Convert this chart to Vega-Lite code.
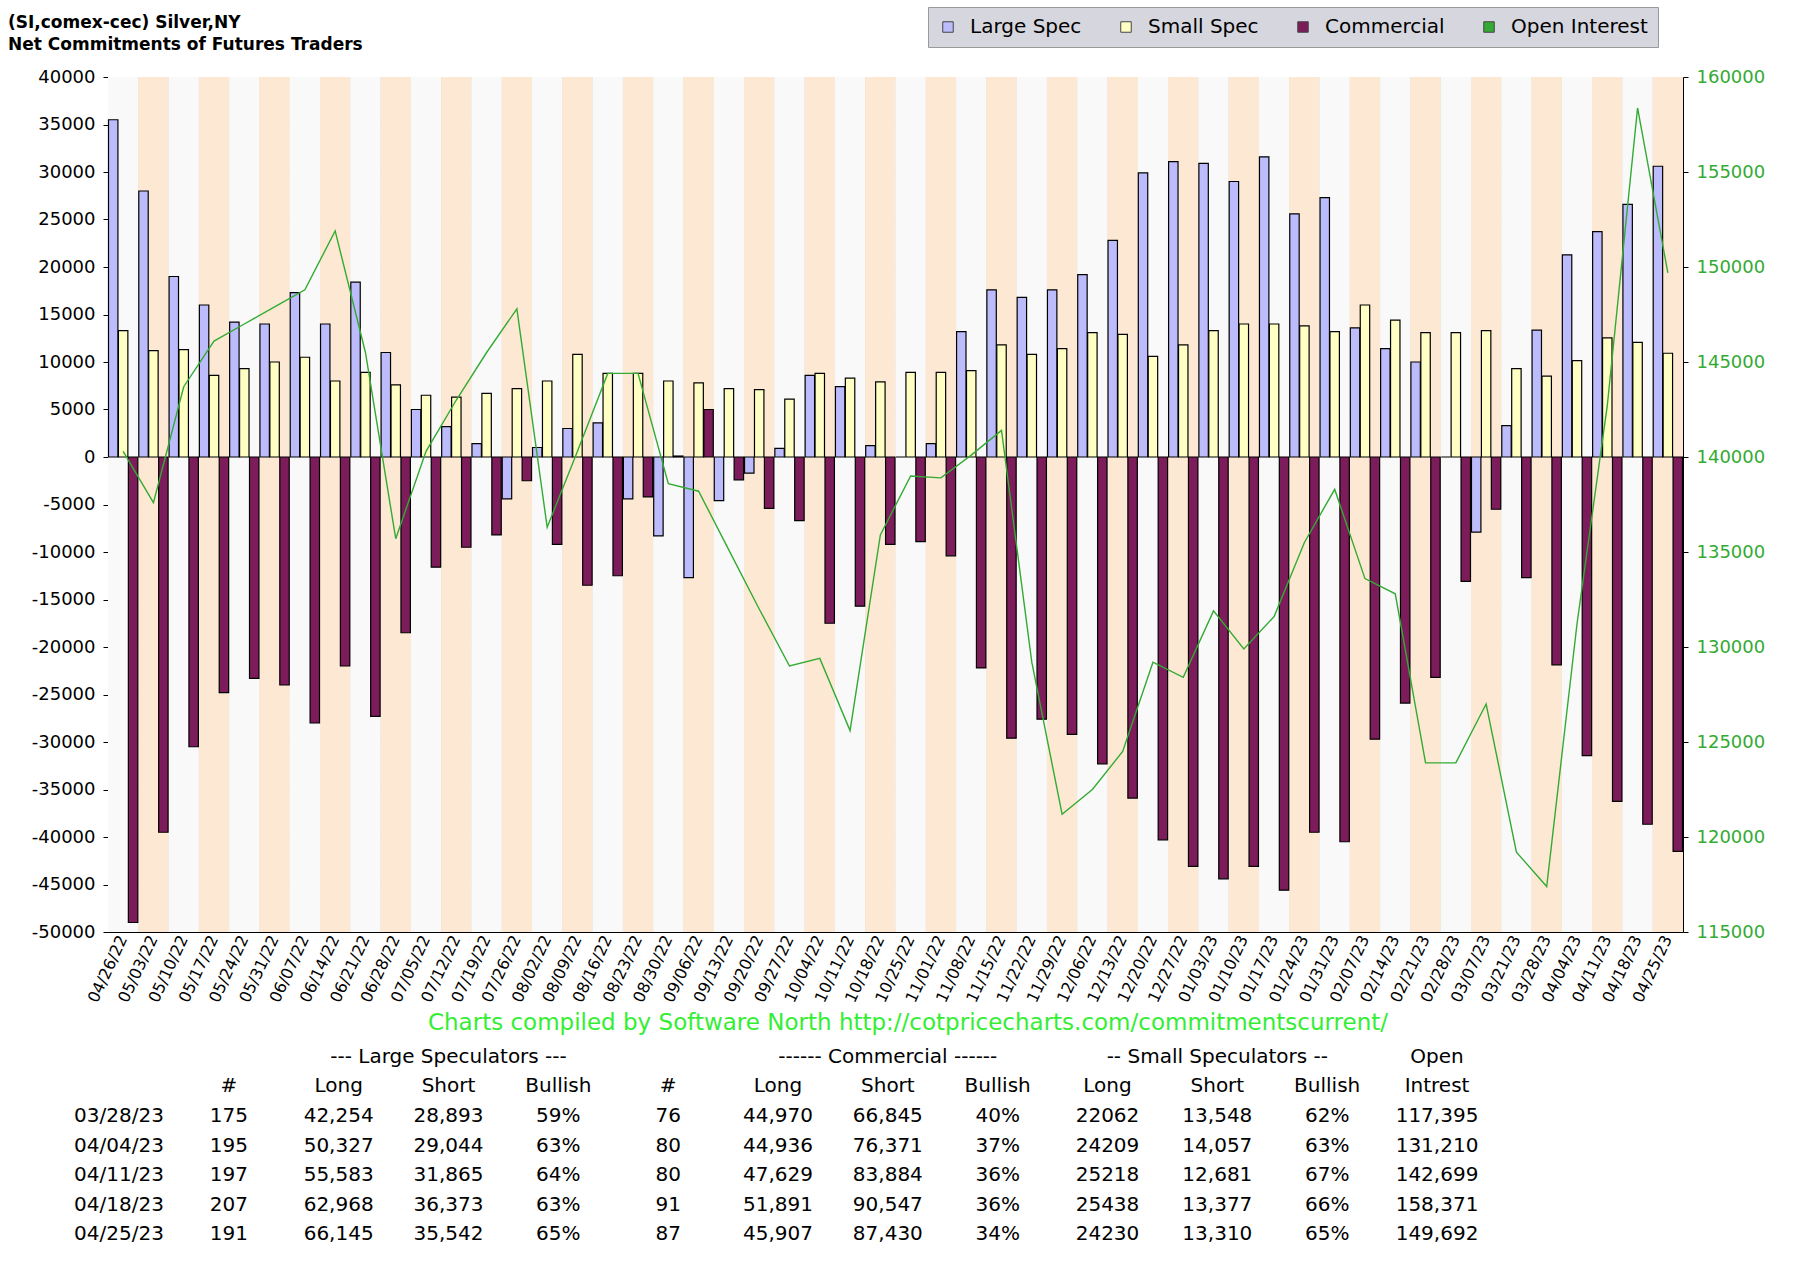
{
  "$schema": "https://vega.github.io/schema/vega-lite/v6.json",
  "background": "white",
  "padding": {"left": 8, "top": 6, "right": 6, "bottom": 4},
  "config": {
    "font": "DejaVu Sans",
    "view": {"stroke": null},
    "axis": {"labelFont": "DejaVu Sans", "labelFontSize": 18, "labelColor": "black", "domainColor": "black", "tickColor": "black"}
  },
  "datasets": {
    "cot": [
      {"d": "04/26/22", "L": 35500, "S": 13300, "C": -49000, "OI": 140300},
      {"d": "05/03/22", "L": 28000, "S": 11200, "C": -39500, "OI": 137600},
      {"d": "05/10/22", "L": 19000, "S": 11300, "C": -30500, "OI": 143700},
      {"d": "05/17/22", "L": 16000, "S": 8600, "C": -24800, "OI": 146100},
      {"d": "05/24/22", "L": 14200, "S": 9300, "C": -23300, "OI": 147000},
      {"d": "05/31/22", "L": 14000, "S": 10000, "C": -24000, "OI": 147900},
      {"d": "06/07/22", "L": 17300, "S": 10500, "C": -28000, "OI": 148800},
      {"d": "06/14/22", "L": 14000, "S": 8000, "C": -22000, "OI": 151900},
      {"d": "06/21/22", "L": 18400, "S": 8900, "C": -27300, "OI": 145500},
      {"d": "06/28/22", "L": 11000, "S": 7600, "C": -18500, "OI": 135700},
      {"d": "07/05/22", "L": 5000, "S": 6500, "C": -11600, "OI": 140300},
      {"d": "07/12/22", "L": 3200, "S": 6300, "C": -9500, "OI": 143000},
      {"d": "07/19/22", "L": 1400, "S": 6700, "C": -8200, "OI": 145500},
      {"d": "07/26/22", "L": -4400, "S": 7200, "C": -2500, "OI": 147800},
      {"d": "08/02/22", "L": 1000, "S": 8000, "C": -9200, "OI": 136300},
      {"d": "08/09/22", "L": 3000, "S": 10800, "C": -13500, "OI": 140300},
      {"d": "08/16/22", "L": 3600, "S": 8800, "C": -12500, "OI": 144400},
      {"d": "08/23/22", "L": -4400, "S": 8800, "C": -4200, "OI": 144400},
      {"d": "08/30/22", "L": -8300, "S": 8000, "C": 100, "OI": 138600},
      {"d": "09/06/22", "L": -12700, "S": 7800, "C": 5000, "OI": 138200},
      {"d": "09/13/22", "L": -4600, "S": 7200, "C": -2400, "OI": 135100},
      {"d": "09/20/22", "L": -1700, "S": 7100, "C": -5400, "OI": 132000},
      {"d": "09/27/22", "L": 900, "S": 6100, "C": -6700, "OI": 129000},
      {"d": "10/04/22", "L": 8600, "S": 8800, "C": -17500, "OI": 129400},
      {"d": "10/11/22", "L": 7400, "S": 8300, "C": -15700, "OI": 125600},
      {"d": "10/18/22", "L": 1200, "S": 7900, "C": -9200, "OI": 135900},
      {"d": "10/25/22", "L": 0, "S": 8900, "C": -8900, "OI": 139000},
      {"d": "11/01/22", "L": 1400, "S": 8900, "C": -10400, "OI": 138900},
      {"d": "11/08/22", "L": 13200, "S": 9100, "C": -22200, "OI": 140100},
      {"d": "11/15/22", "L": 17600, "S": 11800, "C": -29600, "OI": 141400},
      {"d": "11/22/22", "L": 16800, "S": 10800, "C": -27600, "OI": 129200},
      {"d": "11/29/22", "L": 17600, "S": 11400, "C": -29200, "OI": 121200},
      {"d": "12/06/22", "L": 19200, "S": 13100, "C": -32300, "OI": 122500},
      {"d": "12/13/22", "L": 22800, "S": 12900, "C": -35900, "OI": 124500},
      {"d": "12/20/22", "L": 29900, "S": 10600, "C": -40300, "OI": 129200},
      {"d": "12/27/22", "L": 31100, "S": 11800, "C": -43100, "OI": 128400},
      {"d": "01/03/23", "L": 30900, "S": 13300, "C": -44400, "OI": 131900},
      {"d": "01/10/23", "L": 29000, "S": 14000, "C": -43100, "OI": 129900},
      {"d": "01/17/23", "L": 31600, "S": 14000, "C": -45600, "OI": 131600},
      {"d": "01/24/23", "L": 25600, "S": 13800, "C": -39500, "OI": 135500},
      {"d": "01/31/23", "L": 27300, "S": 13200, "C": -40500, "OI": 138300},
      {"d": "02/07/23", "L": 13600, "S": 16000, "C": -29700, "OI": 133600},
      {"d": "02/14/23", "L": 11400, "S": 14400, "C": -25900, "OI": 132800},
      {"d": "02/21/23", "L": 10000, "S": 13100, "C": -23200, "OI": 123900},
      {"d": "02/28/23", "L": 0, "S": 13100, "C": -13100, "OI": 123900},
      {"d": "03/07/23", "L": -7900, "S": 13300, "C": -5500, "OI": 127000},
      {"d": "03/21/23", "L": 3300, "S": 9300, "C": -12700, "OI": 119200},
      {"d": "03/28/23", "L": 13361, "S": 8514, "C": -21875, "OI": 117395},
      {"d": "04/04/23", "L": 21283, "S": 10152, "C": -31435, "OI": 131210},
      {"d": "04/11/23", "L": 23718, "S": 12537, "C": -36255, "OI": 142699},
      {"d": "04/18/23", "L": 26595, "S": 12061, "C": -38656, "OI": 158371},
      {"d": "04/25/23", "L": 30603, "S": 10920, "C": -41523, "OI": 149692}
    ],
    "table": [
      {"r": 0, "dt": "", "ln": "", "ll": "", "ls": "--- Large Speculators ---", "lb": "", "cn": "", "cl": "", "cs": "------ Commercial ------", "cb": "", "sl": "", "ss": "-- Small Speculators --", "sb": "", "oi": "Open"},
      {"r": 1, "dt": "", "ln": "#", "ll": "Long", "ls": "Short", "lb": "Bullish", "cn": "#", "cl": "Long", "cs": "Short", "cb": "Bullish", "sl": "Long", "ss": "Short", "sb": "Bullish", "oi": "Intrest"},
      {"r": 2, "dt": "03/28/23", "ln": "175", "ll": "42,254", "ls": "28,893", "lb": "59%", "cn": "76", "cl": "44,970", "cs": "66,845", "cb": "40%", "sl": "22062", "ss": "13,548", "sb": "62%", "oi": "117,395"},
      {"r": 3, "dt": "04/04/23", "ln": "195", "ll": "50,327", "ls": "29,044", "lb": "63%", "cn": "80", "cl": "44,936", "cs": "76,371", "cb": "37%", "sl": "24209", "ss": "14,057", "sb": "63%", "oi": "131,210"},
      {"r": 4, "dt": "04/11/23", "ln": "197", "ll": "55,583", "ls": "31,865", "lb": "64%", "cn": "80", "cl": "47,629", "cs": "83,884", "cb": "36%", "sl": "25218", "ss": "12,681", "sb": "67%", "oi": "142,699"},
      {"r": 5, "dt": "04/18/23", "ln": "207", "ll": "62,968", "ls": "36,373", "lb": "63%", "cn": "91", "cl": "51,891", "cs": "90,547", "cb": "36%", "sl": "25438", "ss": "13,377", "sb": "66%", "oi": "158,371"},
      {"r": 6, "dt": "04/25/23", "ln": "191", "ll": "66,145", "ls": "35,542", "lb": "65%", "cn": "87", "cl": "45,907", "cs": "87,430", "cb": "34%", "sl": "24230", "ss": "13,310", "sb": "65%", "oi": "149,692"}
    ]
  },
  "vconcat": [
    {
      "title": {"text": ["(SI,comex-cec) Silver,NY", "Net Commitments of Futures Traders"], "anchor": "start", "frame": "group", "fontSize": 17, "fontWeight": "bold", "lineHeight": 22, "offset": 14, "dx": -100},
      "width": 1575,
      "height": 855,
      "data": {"name": "cot"},
      "layer": [
        {
          "layer": [
            {
              "transform": [{"window": [{"op": "row_number", "as": "rn"}]}],
              "mark": {"type": "bar", "strokeWidth": 0},
              "encoding": {
                "x": {"field": "d", "type": "ordinal", "sort": null, "scale": {"paddingInner": 0, "paddingOuter": 0},
                  "axis": {"title": null, "labelAngle": -65, "labelFontSize": 16, "labelAlign": "right", "labelBaseline": "middle", "grid": true, "gridColor": "#d8d8d8", "bandPosition": 0, "ticks": false, "labelPadding": 4, "labelBound": false}},
                "y": {"datum": 40000, "type": "quantitative"},
                "y2": {"datum": -50000},
                "fill": {"condition": {"test": "datum.rn % 2 == 0", "value": "#fde9d3"}, "value": "#f9f9f9"}
              }
            },
            {
              "transform": [{"fold": ["L", "S", "C"], "as": ["series", "net"]}],
              "mark": {"type": "bar", "stroke": "black", "strokeWidth": 1.2},
              "encoding": {
                "x": {"field": "d", "type": "ordinal", "sort": null},
                "xOffset": {"field": "series", "type": "nominal", "sort": ["L", "S", "C"], "scale": {"paddingInner": 0.05, "paddingOuter": 0.05}},
                "y": {"field": "net", "type": "quantitative", "scale": {"domain": [-50000, 40000], "nice": false},
                  "axis": {"title": null, "values": [-50000, -45000, -40000, -35000, -30000, -25000, -20000, -15000, -10000, -5000, 0, 5000, 10000, 15000, 20000, 25000, 30000, 35000, 40000], "format": "d", "labelExpr": "replace(datum.label, '−', '-')", "grid": true, "gridColor": "#d0d0d0", "labelPadding": 8}},
                "fill": {"field": "series", "type": "nominal",
                  "scale": {"domain": ["L", "S", "C", "OI"], "range": ["#bcbcfc", "#ffffc4", "#7c1c5a", "#33aa33"]},
                  "legend": {"title": null, "orient": "none", "direction": "horizontal", "legendX": 820, "legendY": -70, "fillColor": "#d6d6de", "strokeColor": "#999", "padding": 10, "labelFontSize": 20, "labelFont": "DejaVu Sans", "symbolType": "square", "symbolSize": 110, "symbolStrokeColor": "#444", "symbolStrokeWidth": 1, "columnPadding": 34, "labelOffset": 12,
                    "labelExpr": "{'L': 'Large Spec', 'S': 'Small Spec', 'C': 'Commercial', 'OI': 'Open Interest'}[datum.label]"}}
              }
            }
          ]
        },
        {
          "mark": {"type": "line", "color": "#33aa33", "strokeWidth": 1.4},
          "encoding": {
            "x": {"field": "d", "type": "ordinal", "sort": null},
            "y": {"field": "OI", "type": "quantitative", "scale": {"domain": [115000, 160000], "nice": false},
              "axis": {"orient": "right", "title": null, "values": [115000, 120000, 125000, 130000, 135000, 140000, 145000, 150000, 155000, 160000], "format": "d", "labelColor": "#33aa33", "grid": false, "labelPadding": 8}}
          }
        }
      ],
      "resolve": {"scale": {"y": "independent"}}
    },
    {
      "title": {"text": "Charts compiled by Software North  http://cotpricecharts.com/commitmentscurrent/", "color": "#33ee33", "fontSize": 23, "fontWeight": "normal", "anchor": "middle", "frame": "group", "offset": 12, "dx": 130},
      "width": 1340,
      "height": 195,
      "data": {"name": "table"},
      "transform": [{"fold": ["dt", "ln", "ll", "ls", "lb", "cn", "cl", "cs", "cb", "sl", "ss", "sb", "oi"], "as": ["col", "txt"]}],
      "mark": {"type": "text", "fontSize": 20, "font": "DejaVu Sans", "color": "black"},
      "encoding": {
        "x": {"field": "col", "type": "nominal", "sort": ["dt", "ln", "ll", "ls", "lb", "cn", "cl", "cs", "cb", "sl", "ss", "sb", "oi"], "scale": {"type": "point", "padding": 0.1}, "axis": null},
        "y": {"field": "r", "type": "ordinal", "scale": {"type": "point", "padding": 0.3}, "axis": null},
        "text": {"field": "txt"}
      }
    }
  ],
  "spacing": 6
}
